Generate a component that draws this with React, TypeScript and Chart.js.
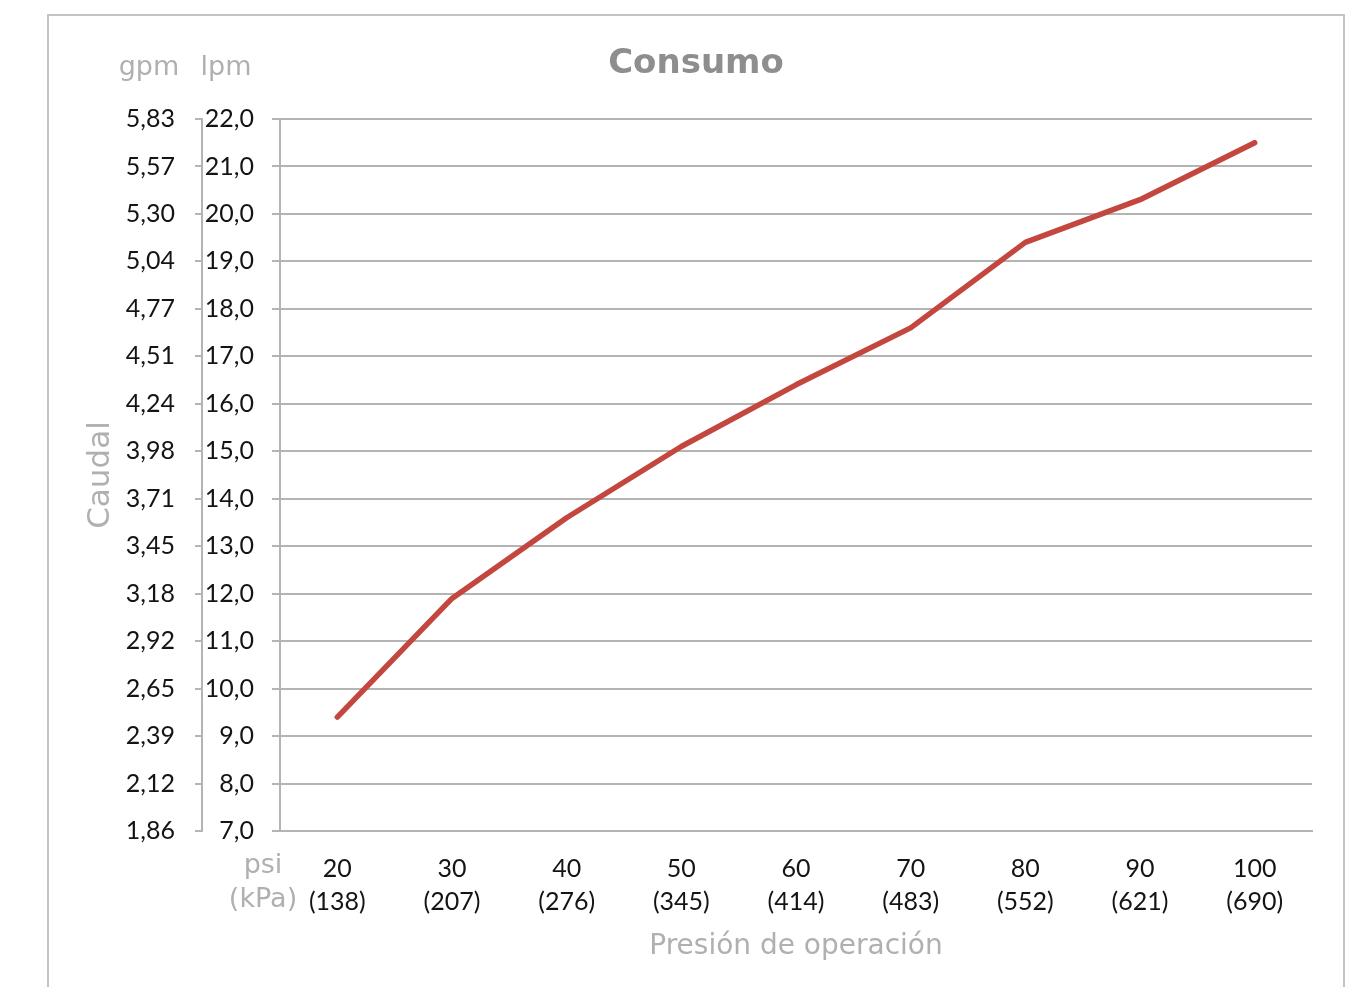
import React, { useEffect, useRef } from "react";
import { Chart, registerables } from "chart.js";

Chart.register(...registerables);

const psiLabels = ["20", "30", "40", "50", "60", "70", "80", "90", "100"];
const kpaLabels = ["(138)", "(207)", "(276)", "(345)", "(414)", "(483)", "(552)", "(621)", "(690)"];
const flowLpm = [9.4, 11.9, 13.6, 15.1, 16.4, 17.6, 19.4, 20.3, 21.5];
const gpmTickLabels = [
  "1,86", "2,12", "2,39", "2,65", "2,92", "3,18", "3,45", "3,71",
  "3,98", "4,24", "4,51", "4,77", "5,04", "5,30", "5,57", "5,83",
];
const lpmMin = 7;
const lpmMax = 22;

const GRID = "#b4b4b4";
const TICK = "#141414";
const LIGHT = "#b0b0b0";
const TICK_FONT = { family: "Lato", size: 25 };
const GEO = "'DejaVu Sans'";

const textPlugin = {
  id: "extraText",
  afterDraw(chart: any) {
    const ctx = chart.ctx;
    ctx.save();
    ctx.textAlign = "center";
    ctx.textBaseline = "middle";
    ctx.fillStyle = "#8e8e8e";
    ctx.font = `bold 34px ${GEO}`;
    ctx.fillText("Consumo", 696, 64);
    ctx.fillStyle = LIGHT;
    ctx.font = `27px ${GEO}`;
    ctx.fillText("gpm", 149, 68);
    ctx.fillText("lpm", 226, 68);
    ctx.fillText("psi", 263, 866);
    ctx.fillText("(kPa)", 263, 900);
    ctx.restore();
  },
};

export default function App() {
  const ref = useRef<HTMLCanvasElement>(null);
  useEffect(() => {
    if (!ref.current) return;
    const chart = new Chart(ref.current, {
      type: "line",
      data: {
        labels: psiLabels.map((p, i) => [p, kpaLabels[i]]),
        datasets: [
          {
            data: flowLpm,
            borderColor: "#c4473f",
            borderWidth: 5.5,
            pointRadius: 0,
            borderCapStyle: "round",
            borderJoinStyle: "round",
            tension: 0,
            yAxisID: "y",
          },
        ],
      },
      options: {
        animation: false,
        responsive: false,
        layout: { padding: { left: 60, right: 39, top: 119, bottom: 0 } },
        plugins: { legend: { display: false }, tooltip: { enabled: false }, title: { display: false } },
        scales: {
          x: {
            offset: true,
            grid: { display: false, drawTicks: false },
            border: { display: true, color: GRID, width: 2 },
            ticks: { color: TICK, font: { ...TICK_FONT, lineHeight: 1.32 }, padding: 21, maxRotation: 0 },
            title: {
              display: true,
              text: "Presión de operación",
              color: LIGHT,
              font: { family: "DejaVu Sans", size: 28, lineHeight: 1.2 },
              padding: { top: 0, bottom: 23 },
            },
            afterFit: (s: any) => { s.height = 156; },
          },
          y1: {
            position: "left",
            weight: 1,
            min: lpmMin,
            max: lpmMax,
            grid: { drawOnChartArea: false, drawTicks: true, tickLength: 7, color: GRID, lineWidth: 2 },
            border: { display: true, color: GRID, width: 2 },
            ticks: {
              stepSize: 1,
              color: TICK,
              font: TICK_FONT,
              padding: 20,
              callback: (v: any) => gpmTickLabels[Math.round(Number(v) - lpmMin)],
            },
            title: {
              display: true,
              text: "Caudal",
              color: LIGHT,
              font: { family: "DejaVu Sans", size: 31, lineHeight: 1.2 },
              padding: { top: 22, bottom: 0 },
            },
            afterFit: (s: any) => { s.width = 142; },
          },
          y: {
            position: "left",
            weight: 0,
            min: lpmMin,
            max: lpmMax,
            grid: { drawTicks: true, tickLength: 8, color: GRID, lineWidth: 2 },
            border: { display: true, color: GRID, width: 2 },
            ticks: {
              stepSize: 1,
              color: TICK,
              font: TICK_FONT,
              padding: 18,
              callback: (v: any) => Number(v).toFixed(1).replace(".", ","),
            },
            afterFit: (s: any) => { s.width = 78; },
          },
        },
      },
      plugins: [textPlugin],
    } as any);
    return () => chart.destroy();
  }, []);

  return (
    <div style={{ position: "absolute", left: 0, top: 0, width: 1351, height: 987, overflow: "hidden", background: "#fff" }}>
      <div
        style={{
          position: "absolute",
          left: 47,
          top: 14,
          width: 1298,
          height: 1100,
          border: "2px solid #c4c4c4",
          boxSizing: "border-box",
        }}
      />
      <canvas ref={ref} width={1351} height={987} style={{ position: "absolute", left: 0, top: 0 }} />
    </div>
  );
}
